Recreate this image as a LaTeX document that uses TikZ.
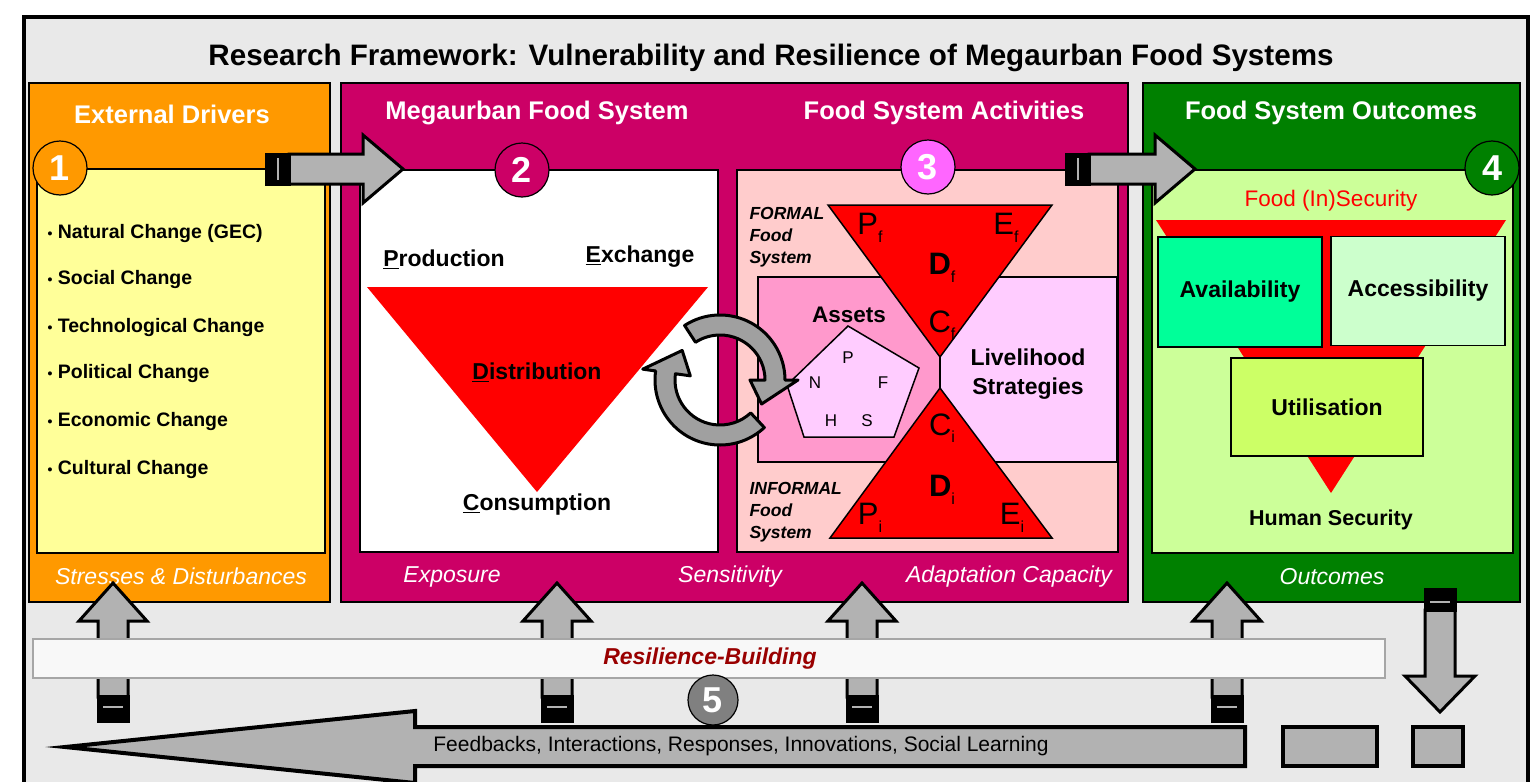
\documentclass[tikz,border=0pt]{standalone}
\usepackage{fontspec}
\setmainfont{Liberation Sans}
\usetikzlibrary{calc}

\definecolor{bggray}{HTML}{E9E9E9}
\definecolor{drvorange}{HTML}{FF9900}
\definecolor{drvyellow}{HTML}{FFFF99}
\definecolor{mfsmagenta}{HTML}{CC0066}
\definecolor{actpink}{HTML}{FFCCCC}
\definecolor{assetpink}{HTML}{FF99CC}
\definecolor{livepink}{HTML}{FFCCFF}
\definecolor{circpink}{HTML}{FF66FF}
\definecolor{outgreen}{HTML}{008000}
\definecolor{outlight}{HTML}{CCFF99}
\definecolor{availcol}{HTML}{00FF99}
\definecolor{accesscol}{HTML}{CCFFCC}
\definecolor{utilcol}{HTML}{CCFF66}
\definecolor{arrgray}{HTML}{B2B2B2}
\definecolor{cycgray}{HTML}{A0A0A0}
\definecolor{circgray}{HTML}{808080}
\definecolor{resred}{HTML}{990000}
\definecolor{resbar}{HTML}{F8F8F8}
\definecolor{resline}{HTML}{A6A6A6}

\newcommand{\fsz}[1]{\fontsize{#1}{#1}\selectfont}
\newcommand{\lo}[1]{\raisebox{-0.45ex}{\fsz{16}#1}}

% block arrow pointing right: tail x, tip x, mid y
\newcommand{\rblock}[3]{%
  \filldraw[blockarr] (#1+24,#3-15) -- (#2-40,#3-15) -- (#2-40,#3-34) -- (#2,#3)
    -- (#2-40,#3+34) -- (#2-40,#3+15) -- (#1+24,#3+15) -- cycle;
  \fill[black] (#1,#3-16.5) rectangle (#1+26,#3+16.5);
  \draw[arrgray, line width=1.2pt] (#1+13,#3-11) -- (#1+13,#3+11);}
% block arrow pointing up: mid x, tail y, tip y
\newcommand{\ublock}[3]{%
  \filldraw[blockarr] (#1-15,#2-26) -- (#1-15,#3+38) -- (#1-34,#3+38) -- (#1,#3)
    -- (#1+34,#3+38) -- (#1+15,#3+38) -- (#1+15,#2-26) -- cycle;
  \fill[black] (#1-16.5,#2-28) rectangle (#1+16.5,#2);
  \draw[arrgray, line width=1.2pt] (#1-10,#2-16) -- (#1+10,#2-16);}
% block arrow pointing down: mid x, tail y, tip y
\newcommand{\dblock}[3]{%
  \filldraw[blockarr] (#1-15,#2+22) -- (#1-15,#3-36) -- (#1-35,#3-36) -- (#1,#3)
    -- (#1+35,#3-36) -- (#1+15,#3-36) -- (#1+15,#2+22) -- cycle;
  \fill[black] (#1-16.5,#2) rectangle (#1+16.5,#2+24);
  \draw[arrgray, line width=1.2pt] (#1-10,#2+14) -- (#1+10,#2+14);}
% curved arrow of the exchange cycle: start angle, end angle
\newcommand{\cycarrow}[2]{%
  \pgfmathsetmacro{\hb}{#2-30}
  \filldraw[cycarr] (#1:65) arc[start angle=#1, end angle=\hb, radius=65]
    -- (\hb:78) -- (#2:48) -- (\hb:30) -- (\hb:45)
    arc[start angle=\hb, end angle=#1, radius=45] -- cycle;}

\begin{document}
\begin{tikzpicture}[x=1pt, y=-1pt,
    headtxt/.style={text=white, font=\bfseries\fsz{25.5}},
    foottxt/.style={text=white, font=\itshape\fsz{23}},
    bodytxt/.style={font=\bfseries\fsz{23}},
    listtxt/.style={anchor=west, font=\bfseries\fsz{19.5}},
    hgtxt/.style={font=\fsz{31}},
    pentxt/.style={font=\fsz{17}},
    systxt/.style={anchor=north west, align=left, font=\bfseries\itshape\fontsize{17.5}{22}\selectfont},
    numcirc/.style={circle, draw=black, line width=1.2pt, minimum size=54pt, inner sep=0pt, text=white, font=\bfseries\fsz{36}},
    boxline/.style={draw=black, line width=1.5pt},
    blockarr/.style={fill=arrgray, draw=black, line width=3pt, line join=miter},
    cycarr/.style={fill=cycgray, draw=black, line width=3pt, line join=round},
  ]
  \useasboundingbox (0,0) rectangle (1540,782);
  \clip (0,0) rectangle (1540,782);

  % frame
  \fill[white] (0,0) rectangle (1540,782);
  \filldraw[fill=bggray, draw=black, line width=4pt] (24,17) rectangle (1528,820);
  \node[font=\bfseries\fsz{29.6}] (title) at (771,58) {Research Framework: Vulnerability and Resilience of Megaurban Food Systems};

  % 1 - external drivers
  \filldraw[fill=drvorange, boxline] (29,83) rectangle (330,602);
  \filldraw[fill=drvyellow, boxline] (37,169) rectangle (325,553);
  \node[headtxt] (hd1) at (172,114) {External Drivers};
  \node[listtxt] (dr1) at (44,233) {{\fsz{14}•}\ Natural Change (GEC)};
  \node[listtxt] (dr2) at (44,279) {{\fsz{14}•}\ Social Change};
  \node[listtxt] (dr3) at (44,327) {{\fsz{14}•}\ Technological Change};
  \node[listtxt] (dr4) at (44,373) {{\fsz{14}•}\ Political Change};
  \node[listtxt] (dr5) at (44,421) {{\fsz{14}•}\ Economic Change};
  \node[listtxt] (dr6) at (44,469) {{\fsz{14}•}\ Cultural Change};
  \node[foottxt] (ft1) at (181,576) {Stresses \& Disturbances};

  % 2 and 3 - megaurban food system
  \filldraw[fill=mfsmagenta, boxline] (341,83) rectangle (1128,602);
  \filldraw[fill=white, boxline] (360,170) rectangle (718,552);
  \filldraw[fill=actpink, boxline] (737,170) rectangle (1118,552);
  \node[headtxt] (hd2) at (537,113) {Megaurban Food System};
  \node[headtxt] (hd3) at (944,113) {Food System Activities};
  \node[foottxt] (ft2) at (452,577) {Exposure};
  \node[foottxt] (ft3) at (730,577) {Sensitivity};
  \node[foottxt] (ft4) at (1009,577) {Adaptation Capacity};

  % food system triangle
  \fill[red] (367,287) -- (708,287) -- (537,492) -- cycle;
  \node[bodytxt] (prod) at (444,259) {\underline{P}roduction};
  \node[bodytxt] (exch) at (640,257) {\underline{E}xchange};
  \node[bodytxt] (dist) at (537,372) {\underline{D}istribution};
  \node[bodytxt] (cons) at (537,505) {\underline{C}onsumption};

  % assets and livelihood strategies
  \filldraw[fill=assetpink, boxline] (758,277) rectangle (940,462);
  \filldraw[fill=livepink, boxline] (940,277) rectangle (1117,462);
  \filldraw[fill=red, draw=black, line width=1.5pt] (828,205) -- (1052,205) -- (940,357) -- cycle;
  \filldraw[fill=red, draw=black, line width=1.5pt] (830,538) -- (1052,538) -- (940,388) -- cycle;
  \node[hgtxt] (pf) at (870,228) {P\lo{f}};
  \node[hgtxt] (ef) at (1006,228) {E\lo{f}};
  \node[hgtxt, font=\bfseries\fsz{31}] (df) at (942,268) {D\lo{\mdseries f}};
  \node[hgtxt] (cf) at (942,325) {C\lo{f}};
  \node[hgtxt] (ci) at (942,428) {C\lo{i}};
  \node[hgtxt, font=\bfseries\fsz{31}] (di) at (942,490) {D\lo{\mdseries i}};
  \node[hgtxt] (pi) at (870,518) {P\lo{i}};
  \node[hgtxt] (ei) at (1012,518) {E\lo{i}};
  \node[systxt] (formal) at (746,204) {FORMAL\\Food\\System};
  \node[systxt] (informal) at (746,479) {INFORMAL\\Food\\System};

  \filldraw[fill=livepink, draw=black, line width=1.5pt] (848,326) -- (919,368) -- (894,437) -- (804,437) -- (787,385) -- cycle;
  \node[bodytxt, font=\bfseries\fsz{22.5}] (assets) at (849,315) {Assets};
  \node[pentxt] (capp) at (848,358) {P};
  \node[pentxt] (capn) at (815,383) {N};
  \node[pentxt] (capf) at (883,383) {F};
  \node[pentxt] (caph) at (831,421) {H};
  \node[pentxt] (caps) at (867,421) {S};
  \node[bodytxt, align=center, font=\bfseries\fontsize{23}{29}\selectfont] (liveli) at (1028,374) {Livelihood\\Strategies};

  % exchange cycle
  \begin{scope}[shift={(720,380)}]
    \cycarrow{237}{390}
    \cycarrow{47}{218}
  \end{scope}

  % 4 - food system outcomes
  \filldraw[fill=outgreen, boxline] (1143,83) rectangle (1520,602);
  \filldraw[fill=outlight, boxline] (1152,170) rectangle (1513,553);
  \node[headtxt] (hd4) at (1331,113) {Food System Outcomes};
  \node[foottxt] (ft5) at (1332,577) {Outcomes};
  \node[text=red, font=\fsz{22.5}] (fis) at (1331,201) {Food (In)Security};
  \fill[red] (1156,220) -- (1506,220) -- (1331,493) -- cycle;
  \node[boxline, fill=availcol, minimum width=164pt, minimum height=110pt, bodytxt] (avail) at (1240,292) {Availability};
  \node[boxline, fill=accesscol, minimum width=174pt, minimum height=109pt, bodytxt] (access) at (1418,291) {Accessibility};
  \node[boxline, fill=utilcol, minimum width=192pt, minimum height=98pt, bodytxt] (util) at (1327,407) {Utilisation};
  \node[font=\bfseries\fsz{21.5}] (humsec) at (1331,520) {Human Security};

  % numbers
  \node[numcirc, fill=drvorange] (n1) at (60,168) {1};
  \node[numcirc, fill=mfsmagenta] (n2) at (522,170) {2};
  \node[numcirc, fill=circpink] (n3) at (928,167) {3};
  \node[numcirc, fill=outgreen] (n4) at (1492,168) {4};

  % arrows between the boxes
  \rblock{265}{403}{169}
  \rblock{1065}{1195}{169}

  % resilience building
  \ublock{113}{723}{583}
  \ublock{557}{723}{583}
  \ublock{862}{723}{583}
  \ublock{1227}{723}{583}
  \dblock{1440}{588}{712}
  \node[draw=resline, line width=2pt, fill=resbar, minimum width=1352pt, minimum height=39pt, inner sep=0pt] (resbox) at (709,658) {};
  \node[text=resred, font=\bfseries\itshape\fsz{23}] (restxt) at (710,659) {Resilience-Building};
  \node[numcirc, fill=circgray, minimum size=50pt] (n5) at (713,700) {5};

  % feedback arrow
  \filldraw[blockarr, line width=4pt] (1245,727) -- (415,727) -- (415,711) -- (65,747) -- (415,783) -- (415,766) -- (1245,766) -- cycle;
  \node[font=\fsz{21}] (feedb) at (741,746) {Feedbacks, Interactions, Responses, Innovations, Social Learning};
  \filldraw[blockarr, line width=4pt] (1283,727) rectangle (1377,766);
  \filldraw[blockarr, line width=4pt] (1413,727) rectangle (1463,766);
\end{tikzpicture}
\end{document}
